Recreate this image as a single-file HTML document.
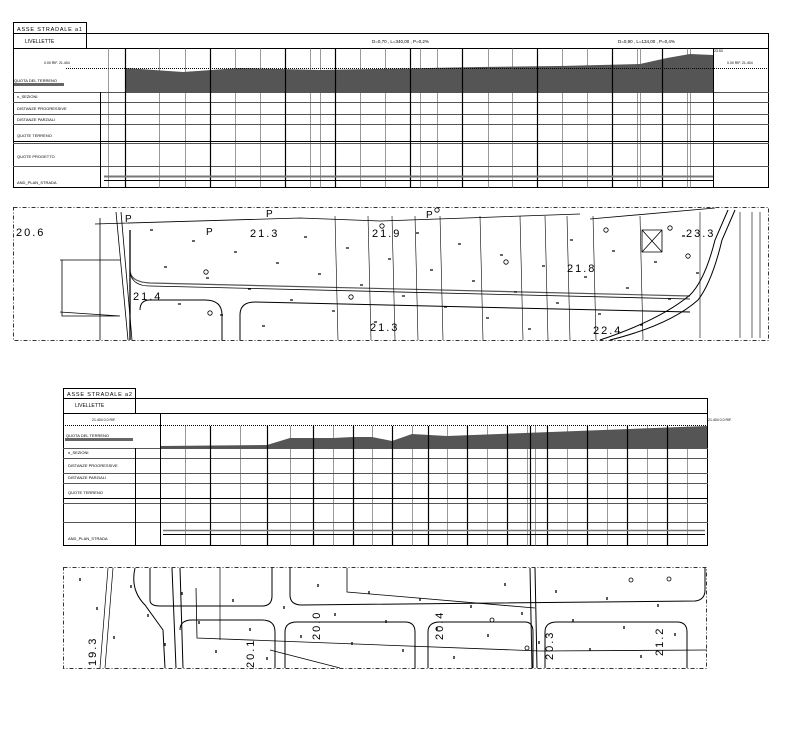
<!DOCTYPE html>
<html><head><meta charset="utf-8">
<style>
html,body{margin:0;padding:0;background:#fff;}
svg{display:block;font-family:"Liberation Sans",sans-serif;}
</style></head>
<body>
<svg id="s" width="793" height="734" viewBox="0 0 793 734" xmlns="http://www.w3.org/2000/svg">
<rect width="793" height="734" fill="#fff"/>
<!-- TABLE 1 -->
<g stroke="#000" fill="none" stroke-width="1">
<rect x="13.5" y="22.5" width="73" height="11"/>
<rect x="13.5" y="33.5" width="755" height="154"/>
<line x1="13" y1="48.5" x2="769" y2="48.5"/>
<line x1="86.5" y1="33" x2="86.5" y2="48"/>
</g>
<polygon points="125,68 183,72 240,68 320,70 480,67 560,66 640,64 667,58 690,54 713,55 713,92 125,92" fill="#555"/>
<line x1="66" y1="68.5" x2="769" y2="68.5" stroke="#000" stroke-dasharray="1,1"/>
<g id="t1rows" stroke="#000" stroke-width="1"></g>
<g font-size="5" fill="#000">
<text x="17" y="31" font-size="5.5" letter-spacing="0.8">ASSE STRADALE a1</text>
<text x="25" y="43">LIVELLETTE</text>
<text x="372" y="43" font-size="4.5">D=0,70 , L=340,00 , P=0,2%</text>
<text x="618" y="43" font-size="4.5">D=0,90 , L=134,00 , P=0,4%</text>
<text x="14" y="82" font-size="4">QUOTA DEL TERRENO</text>
<text x="17" y="98" font-size="4">n_SEZIONI</text>
<text x="17" y="110" font-size="4">DISTANZE PROGRESSIVE</text>
<text x="17" y="121" font-size="4">DISTANZE PARZIALI</text>
<text x="17" y="137" font-size="4">QUOTE TERRENO</text>
<text x="17" y="158" font-size="4">QUOTE PROGETTO</text>
<text x="17" y="184" font-size="4">AND_PLAN_STRADA</text>
<text x="44" y="64" font-size="3.5">0.00 RIF. 21.404</text>
<text x="727" y="64" font-size="3.5">0.00 RIF. 21.404</text>
<text x="714" y="52" font-size="3.5">23.53</text>
</g>
<rect x="14" y="83" width="50" height="3" fill="#666"/>
<!-- MAP 1 -->
<rect x="13.5" y="207.5" width="755" height="133" fill="none" stroke="#333" stroke-dasharray="4,2,1,2"/>
<g id="m1" stroke="#000" fill="none" stroke-width="0.8"></g>
<g font-size="11" fill="#000" letter-spacing="2">
<text x="16" y="236">20.6</text>
<text x="250" y="237">21.3</text>
<text x="372" y="237">21.9</text>
<text x="567" y="272">21.8</text>
<text x="686" y="237">23.3</text>
<text x="133" y="300">21.4</text>
<text x="370" y="331">21.3</text>
<text x="593" y="334">22.4</text>
<text x="125" y="222" font-size="10">P</text>
<text x="266" y="217" font-size="10">P</text>
<text x="426" y="218" font-size="10">P</text>
<text x="206" y="235" font-size="10">P</text>
</g>
<!-- TABLE 2 -->
<g stroke="#000" fill="none" stroke-width="1">
<rect x="63.5" y="388.5" width="72" height="10"/>
<rect x="63.5" y="398.5" width="644" height="147"/>
<line x1="63" y1="413.5" x2="708" y2="413.5"/>
<line x1="135.5" y1="398" x2="135.5" y2="413"/>
</g>
<polygon points="160,446 267,445 290,438 333,438 353,437 372,437 392,441 412,434 447,436 707,426 707,448 160,448" fill="#555"/>
<line x1="63" y1="425.5" x2="708" y2="425.5" stroke="#000" stroke-dasharray="1,1"/>
<g id="t2rows" stroke="#000" stroke-width="1"></g>
<g font-size="4" fill="#000">
<text x="67" y="396" font-size="5.5" letter-spacing="0.8">ASSE STRADALE a2</text>
<text x="75" y="407" font-size="5">LIVELLETTE</text>
<text x="66" y="437">QUOTA DEL TERRENO</text>
<text x="68" y="454">n_SEZIONI</text>
<text x="68" y="467">DISTANZE PROGRESSIVE</text>
<text x="68" y="479">DISTANZE PARZIALI</text>
<text x="68" y="494">QUOTE TERRENO</text>
<text x="68" y="540">AND_PLAN_STRADA</text>
<text x="92" y="421" font-size="3.5">21.404 0.0 RIF.</text>
<text x="708" y="421" font-size="3.5">21.404 0.0 RIF.</text>
</g>
<rect x="65" y="438" width="68" height="3" fill="#666"/>
<!-- MAP 2 -->
<rect x="63.5" y="567.5" width="643" height="101" fill="none" stroke="#333" stroke-dasharray="4,2,1,2"/>
<g id="m2" stroke="#000" fill="none" stroke-width="0.8"></g>
<g font-size="11" fill="#000" letter-spacing="2">
<text transform="translate(96,666) rotate(-90)">19.3</text>
<text transform="translate(254,668) rotate(-90)">20.1</text>
<text transform="translate(320,640) rotate(-90)">20.0</text>
<text transform="translate(443,640) rotate(-90)">20.4</text>
<text transform="translate(553,660) rotate(-90)">20.3</text>
<text transform="translate(663,656) rotate(-90)">21.2</text>
</g>
</svg>
<script>
const NS="http://www.w3.org/2000/svg";
function L(g,x1,y1,x2,y2,w,c){const e=document.createElementNS(NS,"line");e.setAttribute("x1",x1);e.setAttribute("y1",y1);e.setAttribute("x2",x2);e.setAttribute("y2",y2);if(w)e.setAttribute("stroke-width",w);if(c)e.setAttribute("stroke",c);g.appendChild(e);}
function P(g,d,w,c){const e=document.createElementNS(NS,"path");e.setAttribute("d",d);if(w)e.setAttribute("stroke-width",w);if(c)e.setAttribute("stroke",c);g.appendChild(e);}
function C(g,x,y,r,f){const e=document.createElementNS(NS,"circle");e.setAttribute("cx",x);e.setAttribute("cy",y);e.setAttribute("r",r);if(f)e.setAttribute("fill","#000");g.appendChild(e);}
// table1
let g=document.getElementById("t1rows");
[92,102,114,124,141,143,166].forEach(y=>L(g,13,y+.5,769,y+.5,1,"#555"));
L(g,100.5,92,100.5,188,1);
L(g,713.5,48,713.5,188,1);
let xs1=[108,125,159,185,210,235,260,285,310,320,335,360,385,410,420,437,462,488,512,537,562,587,612,637,640,662,687,690];
xs1.forEach((x,i)=>L(g,x+.5,48,x+.5,188,(i%3==1)?1.2:0.6,(i%3==1)?"#000":"#555"));
L(g,104,176.5,713,176.5,2,"#777");L(g,104,180.5,713,180.5,1);
L(g,13,141.5,769,141.5,1);
// map1
g=document.getElementById("m1");
P(g,"M95 224 L300 218 L380 221 L580 214",0.8);
P(g,"M590 219 L715 208",0.8);
P(g,"M130 270 Q130 282 150 283 L690 296",1.2,"#555");P(g,"M130 272 Q132 286 150 286 L690 299",0.8);
P(g,"M140 310 Q140 300 150 300 L205 300 Q222 300 222 315 L222 340",1);
P(g,"M240 340 L240 315 Q240 302 255 302 L690 312",1);
P(g,"M130 340 L130 230",1.3);P(g,"M116 212 L128 340",0.8);P(g,"M121 212 L132 340",0.8);
P(g,"M100 218 L100 340",0.8);P(g,"M60 260 L120 260 M60 312 L120 316 L62 316 L62 260",0.8);
P(g,"M600 340 Q660 320 690 295 Q705 280 715 240 L728 210",1);P(g,"M610 340 Q670 325 698 300 Q712 282 722 240 L735 210",1);
[335,368,392,415,440,480,520,545,567,593,640].forEach((x,i)=>P(g,`M${x} 216 L${x+3} 340`,0.6));
[700,740,752,760].forEach(x=>P(g,`M${x} 212 L${x} 338`,0.6));
P(g,"M642 230 L662 230 L662 252 L642 252Z M642 230 L662 252 M662 230 L642 252",0.8);
for(let i=0;i<40;i++){const x=150+i*14,y=230+(i*37%100);P(g,`M${x} ${y} l3 0`,1.2);}
[[206,272],[210,313],[351,297],[382,226],[437,210],[506,262],[606,230],[670,228],[688,256]].forEach(a=>C(g,a[0],a[1],2.2));
// table2
g=document.getElementById("t2rows");
[448,458,473,483,498,503,522].forEach(y=>L(g,63,y+.5,708,y+.5,1,"#555"));
L(g,135.5,448,135.5,546,1);L(g,160.5,413,160.5,546,1);
let xs2=[185,210,240,267,290,313,333,353,372,392,412,428,447,467,487,507,527,530,535,547,567,587,607,627,647,667,687];
xs2.forEach((x,i)=>L(g,x+.5,426,x+.5,546,(i%2==1)?1.2:0.6,(i%2==1)?"#000":"#555"));
L(g,63,498.5,708,498.5,1);
L(g,163,530.5,705,530.5,1.5,"#777");L(g,163,534.5,705,534.5,1);
// map2
g=document.getElementById("m2");
P(g,"M108 568 L100 668 M113 568 L105 668",0.7);
P(g,"M135 568 Q130 590 145 605 L163 630 L165 668",1);
P(g,"M150 568 L150 600 Q150 606 160 606 L262 606 Q272 606 272 596 L272 568",1);
P(g,"M172 568 L176 668 M180 568 L183 668",1);
P(g,"M180 630 Q180 620 192 620 L262 620 Q275 620 275 632 L275 668",1);
P(g,"M285 668 L285 632 Q285 622 297 622 L405 622 Q415 622 415 632 L415 668",1);
P(g,"M290 568 L290 595 Q290 605 302 605 L695 601 Q705 600 705 590 L705 568",1);
P(g,"M428 668 L428 632 Q428 622 440 622 L525 622 Q533 622 533 632 L533 668",1);
P(g,"M545 668 L545 632 Q545 622 557 622 L677 622 Q687 622 687 632 L687 668",1);
P(g,"M530 568 L532 668 M535 568 L537 668",1);
P(g,"M196 588 L197 638 L540 651 L707 650",0.8);P(g,"M347 568 L347 592 L535 608",0.8);P(g,"M270 650 L340 668",0.8);
P(g,"M220 568 L220 640",0.7);
for(let i=0;i<36;i++){const x=80+i*17,y=578+(i*29%80);P(g,`M${x} ${y} l0 3`,1.3);}
[[631,580],[669,579],[527,648],[492,620]].forEach(a=>C(g,a[0],a[1],2));
</script>
</body></html>
